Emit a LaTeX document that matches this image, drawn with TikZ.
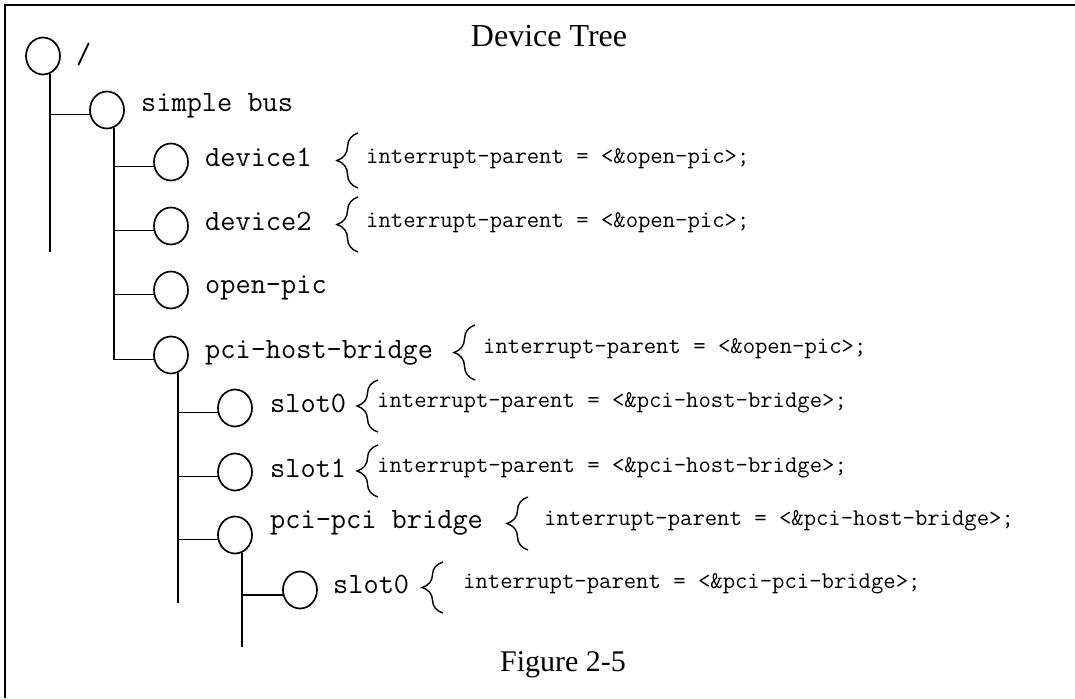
\documentclass[tikz,border=0pt]{standalone}
\usepackage{fontspec}
\setmainfont{Liberation Serif}
\usetikzlibrary{decorations.pathreplacing,shapes.geometric}
\begin{document}
\begin{tikzpicture}[x=1pt,y=-1pt,
  dnode/.style={ellipse, draw, line width=1.7pt, minimum width=34pt, minimum height=37pt, inner sep=0pt},
  nm/.style={anchor=base west, inner sep=0pt, font=\ttfamily\fontsize{29.5}{33}\selectfont},
  prop/.style={anchor=base west, inner sep=0pt, font=\ttfamily\fontsize{24}{28}\selectfont},
  link/.style={line width=1.7pt},
  brc/.style={decorate, decoration={brace, amplitude=21pt}, line width=1.4pt},
  ttl/.style={inner sep=0pt, font=\fontsize{32}{36}\selectfont},
]
\useasboundingbox (0,0) rectangle (1075,698);
% frame
\draw[line width=1.6pt] (5,698) -- (5,5) -- (1075,5);

% titles
\node[ttl] (title) at (549,36) {Device Tree};
\node[ttl, font=\fontsize{30}{34}\selectfont] (fig) at (563,665) {Figure 2-5};

% tree nodes
\node[dnode] (root) at (43,56) {};
\node[dnode] (sbus) at (107,110) {};
\node[dnode] (dev1) at (171,162) {};
\node[dnode] (dev2) at (171,226) {};
\node[dnode] (opic) at (171,290) {};
\node[dnode] (phb)  at (171,355) {};
\node[dnode] (slota) at (235,408) {};
\node[dnode] (slotb) at (235,472) {};
\node[dnode] (ppb)  at (235,535) {};
\node[dnode] (slotc) at (300,590) {};

% trunk ends
\coordinate (rootend) at (49,252);
\coordinate (phbend) at (176,603);
\coordinate (ppbend) at (241,647);

% trunks
\draw[link] (root.-68) -- (root.-68 |- rootend);
\draw[link] (sbus.-68) -- (sbus.-68 |- phb.195);
\draw[link] (phb.-68) -- (phb.-68 |- phbend);
\draw[link] (ppb.-68) -- (ppb.-68 |- ppbend);

% branches
\draw[link] (root.-68 |- sbus.195) -- (sbus.195);
\draw[link] (sbus.-68 |- dev1.195) -- (dev1.195);
\draw[link] (sbus.-68 |- dev2.195) -- (dev2.195);
\draw[link] (sbus.-68 |- opic.195) -- (opic.195);
\draw[link] (sbus.-68 |- phb.195) -- (phb.195);
\draw[link] (phb.-68 |- slota.195) -- (slota.195);
\draw[link] (phb.-68 |- slotb.195) -- (slotb.195);
\draw[link] (phb.-68 |- ppb.195) -- (ppb.195);
\draw[link] (ppb.-68 |- slotc.195) -- (slotc.195);

% names
\node[nm] (lroot) at (76,64) {/};
\node[nm] (lsbus) at (141,112) {simple bus};
\node[nm] (ldev1) at (205,166) {device1};
\node[nm] (ldev2) at (205,230) {device2};
\node[nm] (lopic) at (205,293) {open-pic};
\node[nm] (lphb)  at (205,358) {pci-host-bridge};
\node[nm] (lslota) at (270,412) {slot0};
\node[nm] (lslotb) at (270,477) {slot1};
\node[nm] (lppb)  at (270,528) {pci-pci bridge};
\node[nm] (lslotc) at (333,593) {slot0};

% properties
\node[prop] (pdev1) at (366,163) {interrupt-parent = <\&open-pic>;};
\node[prop] (pdev2) at (366,227) {interrupt-parent = <\&open-pic>;};
\node[prop] (pphb)  at (483,353) {interrupt-parent = <\&open-pic>;};
\node[prop] (pslota) at (377,407) {interrupt-parent = <\&pci-host-bridge>;};
\node[prop] (pslotb) at (377,472) {interrupt-parent = <\&pci-host-bridge>;};
\node[prop] (pppb)  at (544,525) {interrupt-parent = <\&pci-host-bridge>;};
\node[prop] (pslotc) at (463,588) {interrupt-parent = <\&pci-pci-bridge>;};

% braces
\draw[brc] (358,188) -- (358,133);
\draw[brc] (358,252) -- (358,197);
\draw[brc] (475,380) -- (475,325);
\draw[brc] (378,432) -- (378,380);
\draw[brc] (378,497) -- (378,445);
\draw[brc] (528,550) -- (528,497);
\draw[brc] (443,613) -- (443,562);
\end{tikzpicture}
\end{document}
